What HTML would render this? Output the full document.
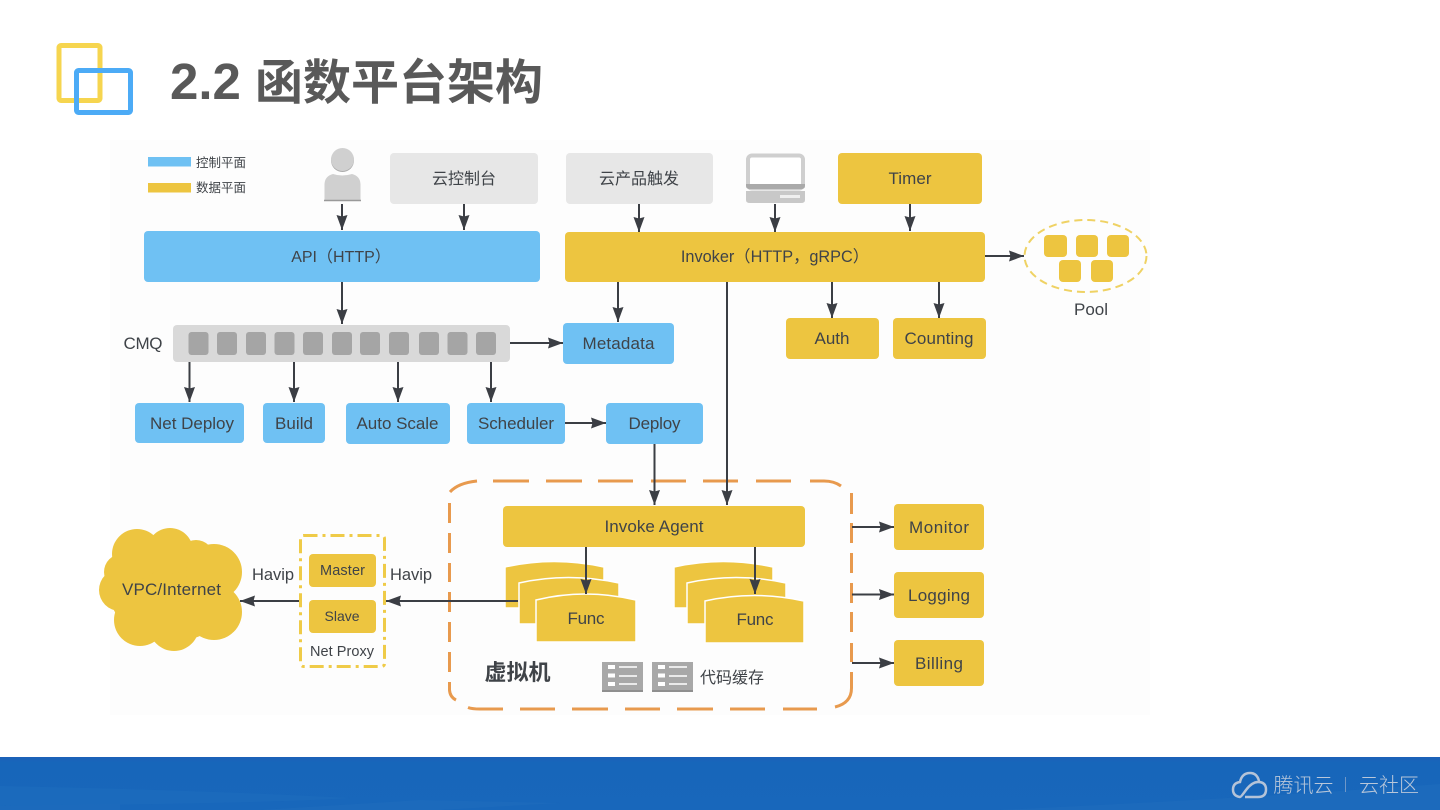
<!DOCTYPE html>
<html lang="zh">
<head>
<meta charset="utf-8">
<title>2.2 函数平台架构</title>
<style>
html,body{margin:0;padding:0;background:#fff;width:1440px;height:810px;overflow:hidden}
svg{display:block}
text{font-family:"Liberation Sans","Noto Sans CJK SC",sans-serif;fill:#3f4348;text-anchor:middle;font-size:17px}
.b{fill:#6fc1f3}
.y{fill:#edc540}
.g{fill:#e7e7e7}
.a{stroke:#3b3e44;stroke-width:2;fill:none;marker-end:url(#h)}
.cq{fill:#a5a5a5}
.cjk{font-family:"Noto Sans CJK SC","Liberation Sans",sans-serif;font-size:16px}
.f{fill:#edc540;stroke:#fff;stroke-width:1.500}
</style>
</head>
<body>
<svg width="1440" height="810" viewBox="0 0 1440 810" xmlns="http://www.w3.org/2000/svg">
<defs>
<marker id="h" markerUnits="userSpaceOnUse" markerWidth="15" markerHeight="14" refX="15" refY="7" orient="auto">
<path d="M0 1.500 L15 7 L0 12.500 L1.500 7 Z" fill="#3b3e44"/>
</marker>
<linearGradient id="fg" x1="0" y1="0" x2="0" y2="1">
<stop offset="0" stop-color="#1d60b8"/><stop offset=".1" stop-color="#1766ba"/><stop offset="1" stop-color="#1867bb"/>
</linearGradient>
</defs>

<rect width="1440" height="810" fill="#fff"/>
<rect x="110" y="140" width="1040" height="575" fill="#fdfdfd"/>

<!-- logo -->
<rect x="59" y="45.500" width="41" height="55" rx="2" fill="#fff" stroke="#f6d54f" stroke-width="5"/>
<rect x="76.500" y="70.500" width="54" height="42" rx="2" fill="none" stroke="#4cabf6" stroke-width="5"/>
<text x="170" y="99" style="font-size:51px;font-weight:700;fill:#595959;text-anchor:start">2.2</text>
<text x="255" y="99" class="cjk" style="font-size:48px;font-weight:700;fill:#595959;text-anchor:start">函数平台架构</text>

<!-- legend -->
<rect x="148" y="157" width="43" height="9.500" class="b"/>
<rect x="148" y="183" width="43" height="9.500" class="y"/>
<text x="221" y="167" class="cjk" style="font-size:12.500px">控制平面</text>
<text x="221" y="192" class="cjk" style="font-size:12.500px">数据平面</text>

<!-- person -->
<circle cx="342.500" cy="160.500" r="11.500" fill="#aaa"/>
<circle cx="342.500" cy="159.500" r="11.500" fill="#d0d0d0"/>
<path d="M324.500 200 V184 Q325 176 333 174 Q342 177 352 174 Q360 176 360.500 184 V200 Z" fill="#d0d0d0"/>
<path d="M324 200.500 H361" stroke="#999" stroke-width="1.500"/>

<!-- laptop -->
<rect x="748" y="155.500" width="55" height="33" rx="4" fill="#fff" stroke="#cfcfcf" stroke-width="4"/>
<path d="M746 184 H805 V186 Q805 189 801 189 H750 Q746 189 746 186 Z" fill="#aaa"/>
<path d="M746 191 H805 V200 Q805 203 801 203 H750 Q746 203 746 200 Z" fill="#c8c8c8"/>
<rect x="780" y="195" width="20" height="3" fill="#efefef"/>

<!-- top boxes -->
<rect x="390" y="153" width="148" height="51" rx="4" class="g"/>
<text x="464" y="184" class="cjk">云控制台</text>
<rect x="566" y="153" width="147" height="51" rx="4" class="g"/>
<text x="639" y="184" class="cjk">云产品触发</text>
<rect x="838" y="153" width="144" height="51" rx="4" class="y"/>
<text x="910" y="184" textLength="43">Timer</text>

<rect x="144" y="231" width="396" height="51" rx="4" class="b"/>
<text x="341" y="262" style="font-size:16px">API（HTTP）</text>
<rect x="565" y="232" width="420" height="50" rx="4" class="y"/>
<text x="775" y="262" style="font-size:16.300px">Invoker（HTTP，gRPC）</text>

<!-- pool -->
<ellipse cx="1085.500" cy="256" rx="61" ry="36" fill="none" stroke="#efd264" stroke-width="2" stroke-dasharray="8 5"/>
<rect x="1044" y="235" width="23" height="22" rx="4" class="y"/>
<rect x="1076" y="235" width="22" height="22" rx="4" class="y"/>
<rect x="1107" y="235" width="22" height="22" rx="4" class="y"/>
<rect x="1059" y="260" width="22" height="22" rx="4" class="y"/>
<rect x="1091" y="260" width="22" height="22" rx="4" class="y"/>
<text x="1091" y="315" textLength="34">Pool</text>

<rect x="786" y="318" width="93" height="41" rx="4" class="y"/>
<text x="832" y="344" textLength="35">Auth</text>
<rect x="893" y="318" width="93" height="41" rx="4" class="y"/>
<text x="939" y="344" textLength="69">Counting</text>

<!-- CMQ -->
<text x="143" y="349" textLength="39">CMQ</text>
<rect x="173" y="325" width="337" height="37" rx="4" fill="#d9d9d9"/>
<rect x="188.500" y="332" width="20" height="23" rx="3" class="cq"/>
<rect x="217" y="332" width="20" height="23" rx="3" class="cq"/>
<rect x="246" y="332" width="20" height="23" rx="3" class="cq"/>
<rect x="274.500" y="332" width="20" height="23" rx="3" class="cq"/>
<rect x="303" y="332" width="20" height="23" rx="3" class="cq"/>
<rect x="332" y="332" width="20" height="23" rx="3" class="cq"/>
<rect x="360" y="332" width="20" height="23" rx="3" class="cq"/>
<rect x="389" y="332" width="20" height="23" rx="3" class="cq"/>
<rect x="419" y="332" width="20" height="23" rx="3" class="cq"/>
<rect x="447.500" y="332" width="20" height="23" rx="3" class="cq"/>
<rect x="476" y="332" width="20" height="23" rx="3" class="cq"/>

<rect x="563" y="323" width="111" height="41" rx="4" class="b"/>
<text x="618.500" y="349" textLength="72">Metadata</text>

<rect x="135" y="403" width="109" height="40" rx="4" class="b"/>
<text x="192" y="429" textLength="84">Net Deploy</text>
<rect x="263" y="403" width="62" height="40" rx="4" class="b"/>
<text x="294" y="429" textLength="38">Build</text>
<rect x="346" y="403" width="104" height="41" rx="4" class="b"/>
<text x="397.500" y="429" textLength="82">Auto Scale</text>
<rect x="467" y="403" width="98" height="41" rx="4" class="b"/>
<text x="516" y="429" textLength="76">Scheduler</text>
<rect x="606" y="403" width="97" height="41" rx="4" class="b"/>
<text x="654.500" y="429" textLength="52">Deploy</text>

<!-- VM dashed border -->
<path fill="none" stroke="#e89a4e" stroke-width="3" d="
M450 492 Q458 483 477 481
M493 481 H529 M546 481 H582 M598 481 H633 M651 481 H686 M703 481 H738 M756 481 H791
M810 481 H824 Q834 481 841 486
M449.500 503 V523 M449.500 533 V553 M449.500 563 V582 M449.500 592 V612 M449.500 622 V642 M449.500 652 V672
M449.500 682 V690 Q450 697 456 700
M468 707.500 Q472 709 480 709 H503 M520 709 H555 M572 709 H608 M625 709 H660 M677 709 H713 M730 709 H765 M783 709 H817
M851.500 493 V514 M851.500 523 V543 M851.500 553 V573 M851.500 583 V603 M851.500 612 V632 M851.500 643 V662
M851.500 672 V688 Q851.500 703 835 707"/>

<rect x="503" y="506" width="302" height="41" rx="4" class="y"/>
<text x="654" y="532" textLength="99">Invoke Agent</text>

<path class="f" d="M505 608 V567 Q554 556 604 567 V608 Z"/>
<path class="f" d="M519 624 V583 Q568 572 619 583 V624 Z"/>
<path class="f" d="M536 642 V600 Q585 588 636 600 V642 Z"/>
<text x="586" y="624" textLength="37">Func</text>
<path class="f" d="M674 608 V567 Q723 556 773 567 V608 Z"/>
<path class="f" d="M687 624 V583 Q736 572 786 583 V624 Z"/>
<path class="f" d="M705 643 V601 Q754 590 804 601 V643 Z"/>
<text x="755" y="625" textLength="37">Func</text>

<text x="517.500" y="680" class="cjk" style="font-size:22px;font-weight:700">虚拟机</text>

<g>
<rect x="602" y="662" width="41" height="30" fill="#a8a8a8"/>
<rect x="652" y="662" width="41" height="30" fill="#a8a8a8"/>
<path d="M602 691 H643 M652 691 H693" stroke="#8f8f8f" stroke-width="2"/>
<path d="M608 667 H615 M608 675.500 H615 M608 684 H615 M658 667 H665 M658 675.500 H665 M658 684 H665" stroke="#fff" stroke-width="4"/>
<path d="M619 667 H637 M619 676 H637 M619 684 H637 M669 667 H687 M669 676 H687 M669 684 H687" stroke="#fff" stroke-width="1.500"/>
</g>
<text x="732" y="683" class="cjk">代码缓存</text>

<rect x="894" y="504" width="90" height="46" rx="4" class="y"/>
<text x="939" y="533" textLength="60">Monitor</text>
<rect x="894" y="572" width="90" height="46" rx="4" class="y"/>
<text x="939" y="601" textLength="62">Logging</text>
<rect x="894" y="640" width="90" height="46" rx="4" class="y"/>
<text x="939" y="669" textLength="48">Billing</text>

<!-- Net proxy -->
<rect x="300.500" y="535.500" width="84" height="131" rx="3" fill="none" stroke="#efcb48" stroke-width="3" stroke-dasharray="14 5 3 5"/>
<rect x="309" y="554" width="67" height="33" rx="4" class="y"/>
<text x="342.500" y="575" style="font-size:14.500px" textLength="45">Master</text>
<rect x="309" y="600" width="67" height="33" rx="4" class="y"/>
<text x="342" y="621" style="font-size:14px" textLength="35">Slave</text>
<text x="342" y="656" style="font-size:14.500px" textLength="64">Net Proxy</text>
<text x="273" y="580" style="font-size:16.500px" textLength="42">Havip</text>
<text x="411" y="580" style="font-size:16.500px" textLength="42">Havip</text>

<!-- cloud -->
<g class="y">
<ellipse cx="171" cy="590" rx="62" ry="52"/>
<circle cx="137" cy="554" r="25"/>
<circle cx="170" cy="551" r="23"/>
<circle cx="196" cy="558" r="18"/>
<circle cx="214" cy="572" r="28"/>
<circle cx="214" cy="612" r="28"/>
<circle cx="174" cy="626" r="25"/>
<circle cx="140" cy="620" r="26"/>
<circle cx="120" cy="590" r="21"/>
<circle cx="122" cy="572" r="18"/>
</g>
<text x="171.500" y="595" textLength="99">VPC/Internet</text>

<!-- arrows -->
<path class="a" d="M342 204 V230"/>
<path class="a" d="M464 204 V230"/>
<path class="a" d="M639 204 V232"/>
<path class="a" d="M775 204 V232"/>
<path class="a" d="M910 204 V231"/>
<path class="a" d="M342 282 V324"/>
<path class="a" d="M985 256 H1024"/>
<path class="a" d="M618 282 V322"/>
<path class="a" d="M727 282 V505"/>
<path class="a" d="M832 282 V318"/>
<path class="a" d="M939 282 V318"/>
<path class="a" d="M510 343 H563"/>
<path class="a" d="M189.500 362 V402"/>
<path class="a" d="M294 362 V402"/>
<path class="a" d="M398 362 V402"/>
<path class="a" d="M491 362 V402"/>
<path class="a" d="M565 423 H606"/>
<path class="a" d="M654.500 444 V505"/>
<path class="a" d="M586 547 V594"/>
<path class="a" d="M755 547 V594"/>
<path class="a" d="M518 601 H386"/>
<path class="a" d="M299 601 H240"/>
<path class="a" d="M852 527 H894"/>
<path class="a" d="M852 594.500 H894"/>
<path class="a" d="M852 663 H894"/>

<!-- footer -->
<rect x="0" y="757" width="1440" height="53" fill="url(#fg)"/>
<path d="M0 786 Q200 790 350 798 Q280 803 0 806 Z" fill="#1f6dbe" opacity=".55"/>
<path d="M0 806 L120 804 V810 H0 Z M260 810 L420 800 L560 803 L440 810 Z" fill="#1f6dbe" opacity=".5"/>
<path d="M1000 810 Q1250 798 1440 784 V810 Z" fill="#1f6dbe" opacity=".5"/>
<g fill="none" stroke="#b4c3d8" stroke-width="2.500">
<path d="M1245 797 H1258 Q1266 797 1266 789.500 Q1266 782 1258 782 Q1252 782 1246 790 Q1241 797 1240 797 Q1233 796 1233 789.500 Q1233 783 1240 782 Q1242 773 1250 773 Q1257 773 1259 781"/>
</g>
<text x="1303.500" y="792" class="cjk" style="font-size:20px;fill:#b9c7da;font-weight:300">腾讯云</text>
<rect x="1345" y="777" width="1" height="15" fill="#6f97c8"/>
<text x="1389" y="792" class="cjk" style="font-size:20px;fill:#b9c7da;font-weight:300">云社区</text>
</svg>
</body>
</html>
